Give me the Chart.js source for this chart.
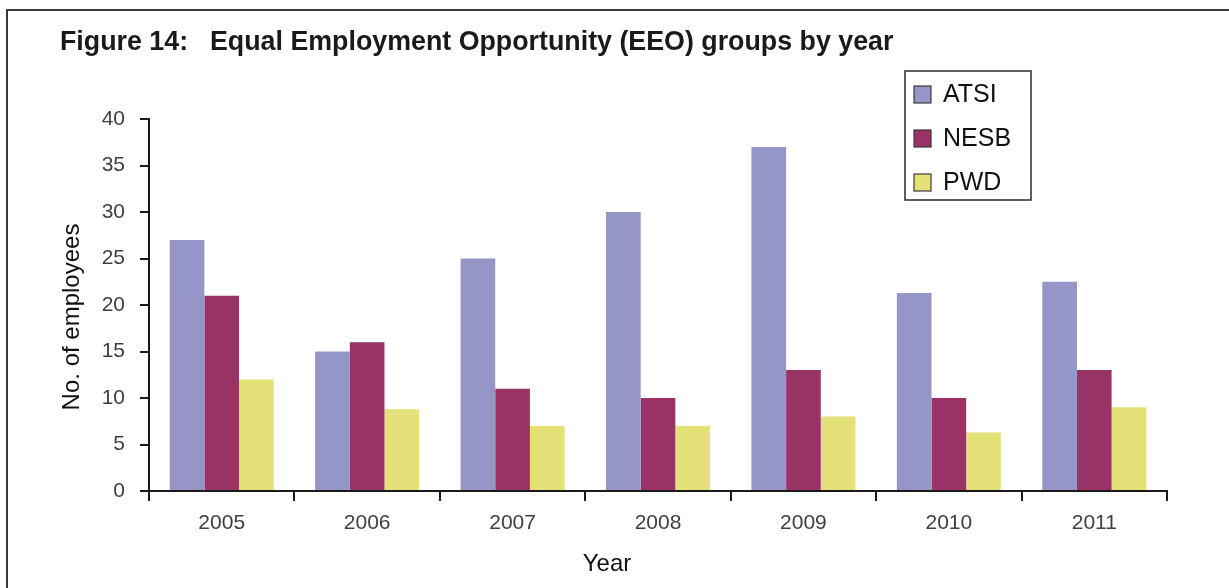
<!DOCTYPE html>
<html>
<head>
<meta charset="utf-8">
<title>Figure 14: EEO groups by year</title>
<script src="https://cdn.jsdelivr.net/npm/chart.js@4.4.1/dist/chart.umd.min.js"></script>
<style>
  html, body { margin: 0; padding: 0; background: #ffffff; }
  #wrap { position: relative; width: 1229px; height: 588px; }
  canvas { display: block; }
</style>
</head>
<body>
<div id="wrap"><canvas id="chart" width="1229" height="588"></canvas></div>
<script>
// Number of employees in each EEO group, by year
const years = ['2005', '2006', '2007', '2008', '2009', '2010', '2011'];
const atsi  = [27, 15, 25, 30, 37, 21.3, 22.5];
const nesb  = [21, 16, 11, 10, 13, 10, 13];
const pwd   = [12, 8.8, 7, 7, 8, 6.3, 9];
const seriesNames = ['ATSI', 'NESB', 'PWD'];
const yTicks = [0, 5, 10, 15, 20, 25, 30, 35, 40];
const xTitle = 'Year';
const yTitle = 'No. of employees';

const colours = ['#9595c8', '#993366', '#e4e178'];
const FONT = '"Liberation Sans", Arial, Helvetica, sans-serif';

// Page frame, heading, axis titles and boxed legend drawn around the plot
const decorations = {
  id: 'decorations',
  afterDraw(chart) {
    const ctx = chart.ctx;
    ctx.save();
    // frame along the left and top edges
    ctx.strokeStyle = '#3a3a3a';
    ctx.lineWidth = 2;
    ctx.beginPath();
    ctx.moveTo(7, 588);
    ctx.lineTo(7, 10);
    ctx.lineTo(1229, 10);
    ctx.stroke();

    // heading
    ctx.fillStyle = '#1a1a1a';
    ctx.font = 'bold 26.8px ' + FONT;
    ctx.textBaseline = 'alphabetic';
    ctx.textAlign = 'left';
    ctx.fillText('Figure 14:', 60, 50);
    ctx.fillText('Equal Employment Opportunity (EEO) groups by year', 210, 50);

    // axis titles
    ctx.fillStyle = '#111111';
    ctx.font = '24px ' + FONT;
    ctx.textAlign = 'center';
    ctx.textBaseline = 'middle';
    ctx.fillText(xTitle, 607, 564);
    ctx.save();
    ctx.translate(72, 317);
    ctx.rotate(-Math.PI / 2);
    ctx.fillText(yTitle, 0, 0);
    ctx.restore();

    // legend box
    const bx = 905, by = 71, bw = 126, bh = 129;
    ctx.strokeStyle = '#2a2a2a';
    ctx.lineWidth = 1.5;
    ctx.strokeRect(bx, by, bw, bh);
    ctx.font = '25px ' + FONT;
    ctx.textAlign = 'left';
    ctx.textBaseline = 'middle';
    chart.data.datasets.forEach((ds, i) => {
      const cy = 94.5 + i * 44;
      ctx.fillStyle = ds.backgroundColor;
      ctx.fillRect(914, cy - 8.5, 17, 17);
      ctx.strokeStyle = '#3a3a3a';
      ctx.lineWidth = 1.2;
      ctx.strokeRect(914, cy - 8.5, 17, 17);
      ctx.fillStyle = '#111111';
      ctx.fillText(ds.label, 943, cy + 1);
    });
    ctx.restore();
  }
};

new Chart(document.getElementById('chart'), {
  type: 'bar',
  data: {
    labels: years,
    datasets: [
      { label: seriesNames[0], data: atsi, backgroundColor: colours[0] },
      { label: seriesNames[1], data: nesb, backgroundColor: colours[1] },
      { label: seriesNames[2], data: pwd,  backgroundColor: colours[2] }
    ]
  },
  options: {
    responsive: false,
    animation: false,
    devicePixelRatio: 1,
    layout: { padding: { top: 119, left: 50, right: 62, bottom: 0 } },
    datasets: { bar: { categoryPercentage: 0.715, barPercentage: 1.0, borderWidth: 0 } },
    plugins: {
      legend: { display: false },
      tooltip: { enabled: false },
      title: { display: false }
    },
    scales: {
      x: {
        afterFit(scale) { scale.height = 97; },
        grid: {
          display: true,
          offset: true,
          drawOnChartArea: false,
          drawTicks: true,
          tickLength: 10,
          color: '#1a1a1a',
          lineWidth: 2
        },
        border: { display: true, color: '#1a1a1a', width: 2 },
        ticks: {
          color: '#404040',
          font: { family: FONT, size: 21 },
          padding: 10,
          maxRotation: 0
        },
        title: { display: false }
      },
      y: {
        min: 0,
        max: 40,
        afterFit(scale) { scale.width = 99; },
        afterBuildTicks(scale) { scale.ticks = yTicks.map(v => ({ value: v })); },
        grid: {
          display: true,
          drawOnChartArea: false,
          drawTicks: true,
          tickLength: 9,
          color: '#1a1a1a',
          lineWidth: 2
        },
        border: { display: true, color: '#1a1a1a', width: 2 },
        ticks: {
          color: '#404040',
          font: { family: FONT, size: 21 },
          padding: 15
        },
        title: { display: false }
      }
    }
  },
  plugins: [decorations]
});
</script>
</body>
</html>
